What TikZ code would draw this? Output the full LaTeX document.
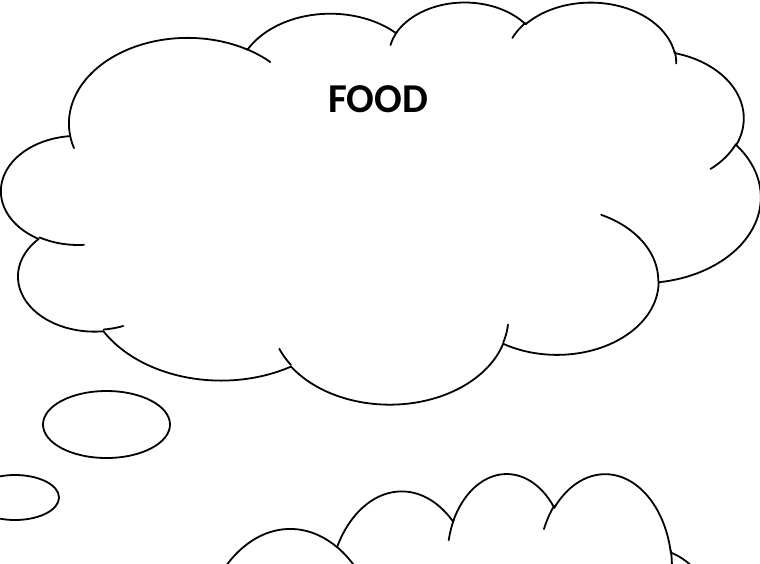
\documentclass[tikz,border=0pt]{standalone}
\usepackage{fontspec}
\setmainfont{Carlito}
\usetikzlibrary{shapes.geometric}
\tikzset{
  cl/.style={line width=1.8pt, line join=round, line cap=round},
  bubble/.style={draw, ellipse, line width=1.8pt, inner sep=0pt}
}
% Office-style cloud, drawn in a 43.2 x 43.2 frame (y downward)
\newcommand\clStart[2]{\def\clPX{#1}\def\clPY{#2}}
\newcommand\clArc[4]{%
  \pgfmathsetmacro\clTS{atan2(#1*sin(#3),#2*cos(#3))}%
  \pgfmathsetmacro\clTEo{atan2(#1*sin(#3+#4),#2*cos(#3+#4))}%
  \pgfmathsetmacro\clTE{\clTS+mod(\clTEo-\clTS+720,360)}%
  \pgfmathsetmacro\clCX{\clPX-#1*cos(\clTS)}%
  \pgfmathsetmacro\clCY{\clPY-#2*sin(\clTS)}%
  \draw[cl] plot[domain=\clTS:\clTE, samples=60] ({\clCX+#1*cos(\x)},{\clCY+#2*sin(\x)});%
  \pgfmathsetmacro\clPX{\clCX+#1*cos(\clTE)}%
  \pgfmathsetmacro\clPY{\clCY+#2*sin(\clTE)}%
}
\newcommand\drawcloud{%
  \clStart{3.900}{14.370}%
  \clArc{6.753}{9.190}{-190.48748}{123.78053}%
  \clArc{5.333}{7.267}{-144.10238}{89.94523}%
  \clArc{4.365}{5.945}{-145.80792}{99.72302}%
  \clArc{4.857}{6.595}{-130.98607}{117.24173}%
  \clArc{5.333}{7.273}{-78.70888}{109.02692}%
  \clArc{6.775}{9.220}{-46.26725}{130.26900}%
  \clArc{5.785}{7.867}{0.62502}{114.03333}%
  \clArc{6.752}{9.215}{22.45160}{115.17255}%
  \clArc{7.720}{10.543}{66.24263}{75.71102}%
  \clArc{4.360}{5.918}{-274.94208}{146.73557}%
  \clArc{4.345}{5.945}{-246.82850}{152.51885}%
  \clStart{4.693}{26.177}\clArc{4.345}{5.945}{86.74200}{26.42950}%
  \clStart{6.928}{34.899}\clArc{4.360}{5.918}{73.61047}{11.44747}%
  \clStart{16.478}{39.090}\clArc{6.752}{9.215}{137.62415}{14.08110}%
  \clStart{28.827}{34.751}\clArc{6.752}{9.215}{6.45327}{15.99835}%
  \clStart{34.129}{22.954}\clArc{5.785}{7.867}{-70.29235}{70.91737}%
  \clStart{41.798}{15.354}\clArc{5.333}{7.273}{30.31803}{27.75150}%
  \clStart{38.324}{5.426}\clArc{4.857}{6.595}{-13.74433}{14.85890}%
  \clStart{29.078}{3.952}\clArc{4.857}{6.595}{-149.18145}{18.19537}%
  \clStart{22.141}{4.720}\clArc{4.365}{5.945}{-163.49427}{17.68635}%
  \clStart{14.000}{5.192}\clArc{6.753}{9.190}{-66.70695}{12.31935}%
  \clStart{4.127}{15.789}\clArc{6.753}{9.190}{157.65435}{11.85817}%
}
\begin{document}
\begin{tikzpicture}[x=1pt, y=-1pt]
\useasboundingbox (0,0) rectangle (760,563);
\clip (0,0) rectangle (760,563);
\fill[white] (0,0) rectangle (760,563);
% big cloud
\begin{scope}[shift={(1.5,1.2)}, x=17.5694pt, y=-9.30556pt]
  \drawcloud
\end{scope}
\node[font=\bfseries\fontsize{41}{49}\selectfont, inner sep=0pt] (food) at (378,99) {FOOD};
% thought bubbles
\node[bubble, minimum width=127pt, minimum height=67pt] (t1) at (106.5,424.5) {};
\node[bubble, minimum width=88pt, minimum height=45pt] (t2) at (15,497.5) {};
% bottom cloud
\begin{scope}[shift={(144.8,472)}, x=13.7269pt, y=-14.4444pt]
  \drawcloud
\end{scope}
\end{tikzpicture}
\end{document}
